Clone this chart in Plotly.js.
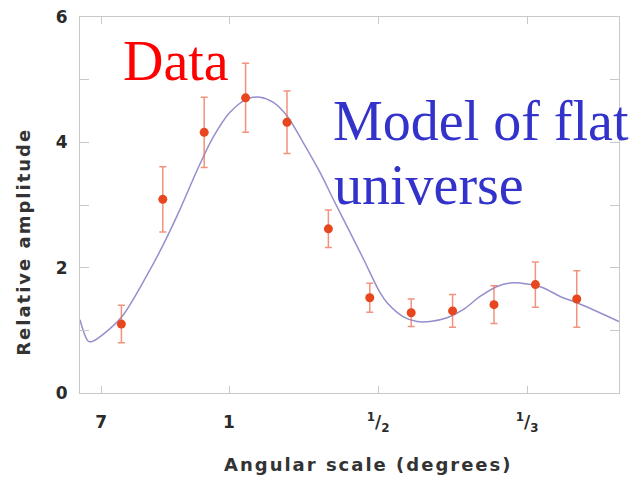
<!DOCTYPE html>
<html>
<head>
<meta charset="utf-8">
<script src="https://cdn.plot.ly/plotly-3.0.1.min.js"></script>
<style>
html,body{margin:0;padding:0;background:#fff;}
#chart{width:639px;height:480px;}
</style>
</head>
<body>
<div id="chart"></div>
<script>
// Multipole (l) positions of the measurements and their amplitudes
var dataL   = [50, 100, 150, 200, 250, 300, 350, 400, 450, 500, 550, 600];
var dataAmp = [1.10, 3.09, 4.16, 4.71, 4.32, 2.62, 1.52, 1.28, 1.31, 1.41, 1.73, 1.50];
var dataErr = [0.30, 0.52, 0.56, 0.55, 0.50, 0.30, 0.23, 0.22, 0.26, 0.30, 0.36, 0.45];

// Model curve
var modelL   = [0, 9.7, 14.5, 30.2, 50.7, 80.9, 100.3, 120.8, 141.3, 160.7, 181.2, 201.7, 217.4, 233.1, 250.1, 269.4, 289.9, 305.6, 322.5, 341.9, 362.4, 370.9, 390.2, 407.1, 422.8, 443.3, 462.7, 483.2, 503.7, 523.1, 540.0, 559.3, 579.9, 600.4, 624.5, 651];
var modelAmp = [1.17, 0.83, 0.82, 0.96, 1.22, 1.88, 2.36, 2.93, 3.55, 4.08, 4.48, 4.69, 4.72, 4.64, 4.42, 4.00, 3.52, 3.10, 2.66, 2.15, 1.60, 1.44, 1.22, 1.14, 1.14, 1.20, 1.33, 1.54, 1.70, 1.76, 1.74, 1.68, 1.54, 1.44, 1.30, 1.14];

// Tick labels (angular scale in degrees) at their multipole positions
var xTickVals = [25.7, 180, 360, 540];
var xTickText = ['7', '1', '<sup>1</sup>/<sub>2</sub>', '<sup>1</sup>/<sub>3</sub>'];
var yTickVals = [0, 2, 4, 6];
var yTickText = ['0', '2', '4', '6'];

var axisGray = '#c8c8c8';
var tickFont = {family: 'DejaVu Sans', size: 17, color: '#2a2a2a', weight: 'bold'};

var traces = [
  {
    x: modelL, y: modelAmp, type: 'scatter', mode: 'lines',
    line: {color: 'rgb(148,143,205)', width: 1.5, shape: 'spline', smoothing: 0.9},
    hoverinfo: 'skip', showlegend: false
  },
  {
    x: dataL, y: dataAmp, type: 'scatter', mode: 'markers',
    marker: {color: '#e8461e', size: 9},
    error_y: {type: 'data', array: dataErr, visible: true, color: 'rgba(236,110,80,0.75)', thickness: 1.5, width: 3.5},
    showlegend: false
  }
];

var layout = {
  width: 639, height: 480,
  margin: {l: 80, r: 20, t: 17, b: 87},
  paper_bgcolor: '#ffffff', plot_bgcolor: '#ffffff',
  showlegend: false,
  xaxis: {
    range: [0, 651], tickmode: 'array', tickvals: xTickVals, ticktext: xTickText,
    ticks: 'inside', ticklen: 7, tickcolor: axisGray, tickwidth: 1,
    showline: true, linecolor: axisGray, linewidth: 1, mirror: 'ticks',
    showgrid: false, zeroline: false, tickfont: tickFont, ticklabelstandoff: 14
  },
  yaxis: {
    range: [0, 6], tickmode: 'array', tickvals: yTickVals, ticktext: yTickText,
    ticks: 'inside', ticklen: 9, tickcolor: axisGray, tickwidth: 1,
    minor: {dtick: 1, ticks: 'inside', ticklen: 9, tickcolor: axisGray, tickwidth: 1, showgrid: false},
    showline: true, linecolor: axisGray, linewidth: 1, mirror: 'ticks',
    showgrid: false, zeroline: false, tickfont: tickFont, ticklabelstandoff: 8
  },
  annotations: [
    {text: 'Data', xref: 'paper', yref: 'paper', x: 0.078, y: 0.883, xanchor: 'left', yanchor: 'middle',
     showarrow: false, borderpad: 0, font: {family: 'Liberation Serif', size: 56, color: '#ff0000'}},
    {text: 'Model of flat', xref: 'paper', yref: 'paper', x: 0.4675, y: 0.723, xanchor: 'left', yanchor: 'middle',
     showarrow: false, borderpad: 0, font: {family: 'Liberation Serif', size: 56, color: '#3333cc'}},
    {text: 'universe', xref: 'paper', yref: 'paper', x: 0.469, y: 0.553, xanchor: 'left', yanchor: 'middle',
     showarrow: false, borderpad: 0, font: {family: 'Liberation Serif', size: 56, color: '#3333cc'}},
    {text: 'Angular scale (degrees)', xref: 'paper', yref: 'paper', x: 0.536, y: -0.189, xanchor: 'center', yanchor: 'middle',
     showarrow: false, borderpad: 0, font: {family: 'DejaVu Sans', size: 18, color: '#333333', weight: 'bold'}},
    {text: 'Relative amplitude', xref: 'paper', yref: 'paper', x: -0.104, y: 0.402, xanchor: 'center', yanchor: 'middle',
     textangle: -90, showarrow: false, borderpad: 0, font: {family: 'DejaVu Sans', size: 18, color: '#333333', weight: 'bold'}}
  ]
};

Plotly.newPlot('chart', traces, layout, {staticPlot: true}).then(function () {
  var texts = document.querySelectorAll('.annotation-text');
  texts.forEach(function (t) {
    if (t.textContent === 'Angular scale (degrees)') t.style.letterSpacing = '2px';
    if (t.textContent === 'Relative amplitude') t.style.letterSpacing = '2px';
  });
});
</script>
</body>
</html>
